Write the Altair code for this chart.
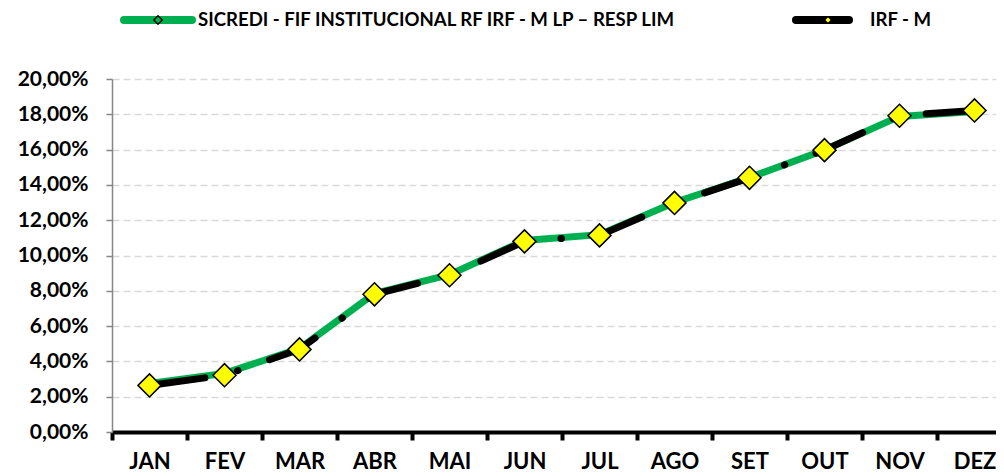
import json
import altair as alt
import pandas as pd

months = ["JAN", "FEV", "MAR", "ABR", "MAI", "JUN", "JUL", "AGO", "SET", "OUT", "NOV", "DEZ"]
fund_name = "SICREDI - FIF INSTITUCIONAL RF IRF - M LP – RESP LIM"
bench_name = "IRF - M"
fund_values = [2.75, 3.32, 4.72, 7.85, 8.92, 10.85, 11.18, 13.00, 14.42, 15.98, 17.88, 18.16]
bench_values = [2.64, 3.22, 4.68, 7.80, 8.88, 10.80, 11.14, 12.98, 14.40, 15.97, 17.92, 18.22]
y_ticks = [0, 0.02, 0.04, 0.06, 0.08, 0.10, 0.12, 0.14, 0.16, 0.18, 0.20]

df = pd.DataFrame({
    "mes": months * 2,
    "serie": [fund_name] * 12 + [bench_name] * 12,
    "valor": [v / 100 for v in fund_values] + [v / 100 for v in bench_values],
})
leg = pd.DataFrame({"serie": [fund_name, bench_name]})

FONT = "Lato"
GREEN = "#00B050"
W = 884          # visible plot width
STEP = 75        # width of one month slot (the plot runs past the window edge)
months_js = json.dumps(months)

x_values = [i * 0.5 for i in range(0, 24)]
x_enc = alt.X("pos:Q", title=None,
              scale=alt.Scale(domain=[0, W / STEP], nice=False, zero=False),
              axis=alt.Axis(values=x_values,
                            labelExpr=f"(datum.value % 1) == 0.5 ? {months_js}[floor(datum.value)] : ''",
                            labelOverlap=False, labelFlush=False, labelBound=False,
                            domainColor="black", domainWidth=4,
                            tickColor="black", tickWidth=4, tickSize=8,
                            tickOpacity={"condition": {"test": "(datum.value % 1) == 0", "value": 1}, "value": 0},
                            labelFont=FONT, labelFontWeight="bold", labelFontSize=22,
                            labelColor="black", labelPadding=11, labelAngle=0, grid=False))
y_enc = alt.Y("valor:Q", title=None,
              scale=alt.Scale(domain=[0, 0.20], nice=False, zero=True),
              axis=alt.Axis(values=y_ticks,
                            labelExpr="replace(format(datum.value, '.2%'), '.', ',')",
                            labelFont=FONT, labelFontWeight="bold", labelFontSize=21,
                            labelColor="black", labelPadding=18,
                            domainColor="#868686", domainWidth=1.5,
                            tickColor="#868686", tickWidth=1.5, tickSize=6,
                            grid=True, gridColor="#D9D9D9", gridDash=[7, 4], gridWidth=1.5))

base = alt.Chart(df).transform_calculate(pos=f"indexof({months_js}, datum.mes) + 0.5")

fund_line = base.transform_filter(alt.datum.serie == fund_name).mark_line(
    color=GREEN, strokeWidth=7).encode(x=x_enc, y=y_enc)

bench_line = base.transform_filter(alt.datum.serie == bench_name).mark_line(
    color="black", strokeWidth=7, strokeCap="round",
    strokeDash=[51, 33.5, 0.5, 33.3], strokeDashOffset=113.4).encode(x=x_enc, y=y_enc)

bench_pts = base.transform_filter(alt.datum.serie == bench_name).mark_point(
    shape="diamond", size=530, filled=True, fill="#FFFF00", stroke="black",
    strokeWidth=1.5, opacity=1).encode(x=x_enc, y=y_enc)

# legend
lb = alt.Chart(leg)
LY = -59
leg_fund_line = lb.transform_filter(alt.datum.serie == fund_name).mark_rule(
    color=GREEN, strokeWidth=8, strokeCap="round").encode(
    x=alt.value(12), x2=alt.value(80), y=alt.value(LY))
leg_fund_pt = lb.transform_filter(alt.datum.serie == fund_name).mark_point(
    shape="diamond", size=70, filled=True, fill=GREEN, stroke="black", strokeWidth=1.5,
    opacity=1).encode(x=alt.value(46), y=alt.value(LY))
leg_fund_txt = lb.transform_filter(alt.datum.serie == fund_name).mark_text(
    align="left", baseline="middle", font=FONT, fontWeight="bold", fontSize=18.6,
    color="black").encode(x=alt.value(86), y=alt.value(LY), text="serie:N")

leg_bench_line = lb.transform_filter(alt.datum.serie == bench_name).mark_rule(
    color="black", strokeWidth=8, strokeCap="round").encode(
    x=alt.value(684), x2=alt.value(737), y=alt.value(LY))
leg_bench_pt = lb.transform_filter(alt.datum.serie == bench_name).mark_point(
    shape="diamond", size=40, filled=True, fill="#FFFF00", stroke="black", strokeWidth=1,
    opacity=1).encode(x=alt.value(716), y=alt.value(LY))
leg_bench_txt = lb.transform_filter(alt.datum.serie == bench_name).mark_text(
    align="left", baseline="middle", font=FONT, fontWeight="bold", fontSize=18.6,
    color="black").encode(x=alt.value(758), y=alt.value(LY), text="serie:N")

chart = alt.layer(
    fund_line, bench_line, bench_pts,
    leg_fund_line, leg_fund_pt, leg_fund_txt,
    leg_bench_line, leg_bench_pt, leg_bench_txt,
).properties(
    width=W, height=353,
    autosize=alt.AutoSizeParams(type="none"),
    padding={"left": 104, "top": 71, "right": 0, "bottom": 44},
    background="white",
).configure_view(stroke=None)

chart.save("out.html", embed_options={"renderer": "svg", "actions": False})
